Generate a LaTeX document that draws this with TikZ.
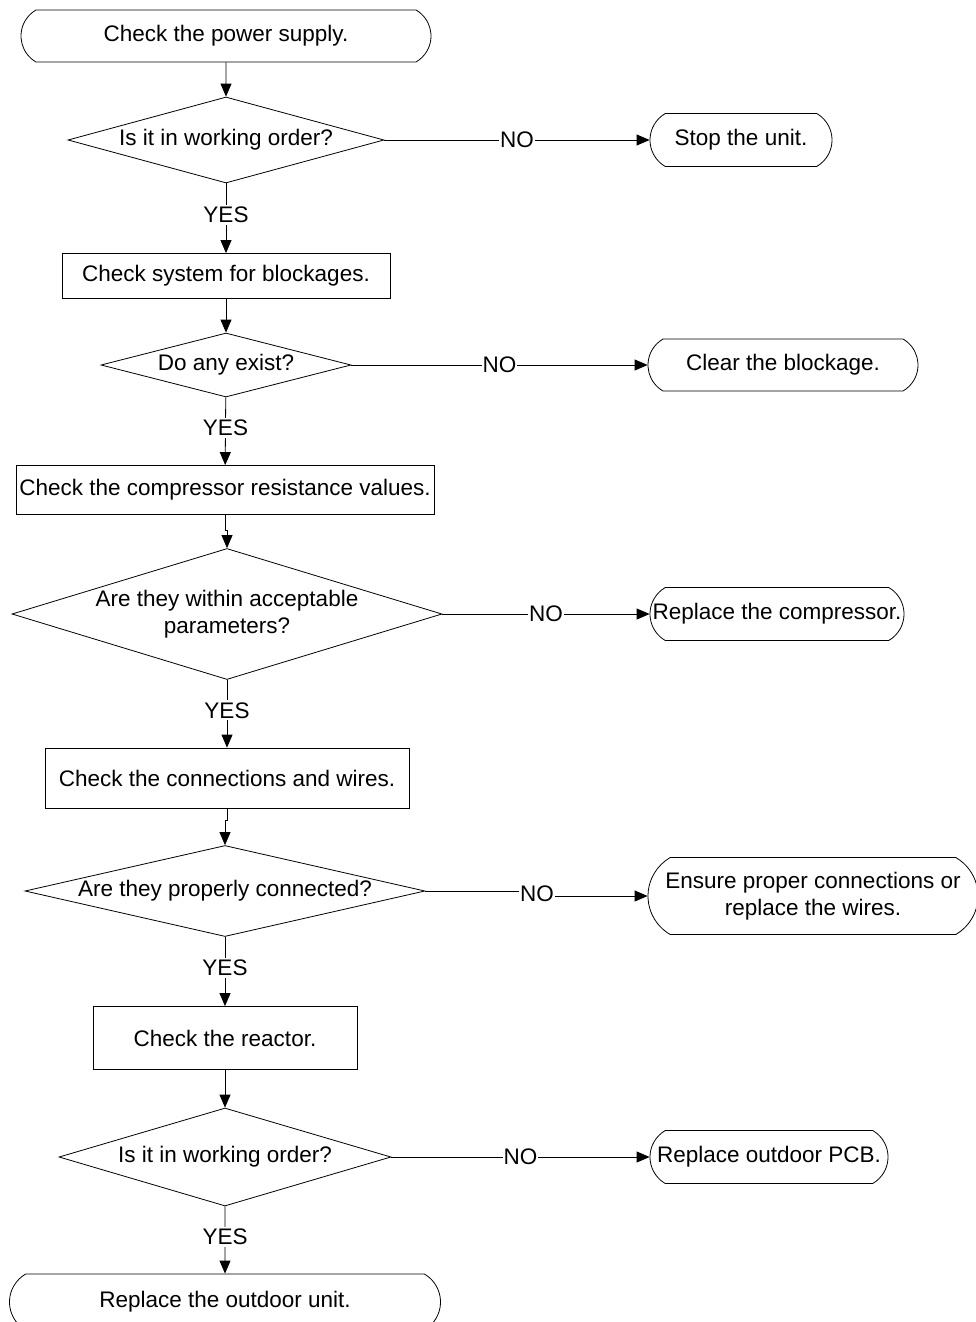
\documentclass[tikz,border=0pt]{standalone}
\usepackage{fontspec}
\setmainfont{Liberation Sans}
\usetikzlibrary{shapes.geometric,shapes.misc,arrows.meta}

\tikzset{
  term/.style={draw, rounded rectangle, rounded rectangle arc length=120,
    inner sep=0pt, align=center},
  procbox/.style={draw, rectangle, inner sep=0pt, align=center},
  decision/.style={draw, diamond, inner sep=0pt, align=center},
  flow/.style={-{Triangle[length=13pt,width=11pt]}},
  nolbl/.style={fill=white, inner sep=1pt},
  yeslbl/.style={fill=white, inner sep=2pt, pos=0.45}
}

\begin{document}
\begin{tikzpicture}[
  x=1pt,
  y=-1pt,
  line width=0.8pt,
  every node/.style={font=\fontsize{22.5}{27}\selectfont}
]
  \useasboundingbox (0,0) rectangle (976,1322);

  % main column
  \node[term, minimum width=410, minimum height=52] (start) at (226,36)
    {Check the power supply.};
  \node[decision, aspect=3.67, minimum width=316, minimum height=86] (d1) at (226,140)
    {Is it in working order?};
  \node[procbox, minimum width=328, minimum height=45] (b2) at (226,276)
    {Check system for blockages.};
  \node[decision, aspect=3.9, minimum width=250, minimum height=64] (d2) at (226,365)
    {Do any exist?};
  \node[procbox, minimum width=418, minimum height=49] (b3) at (225,490)
    {Check the compressor resistance values.};
  \node[decision, aspect=3.28, minimum width=430, minimum height=131] (d3) at (227,614)
    {Are they within acceptable\\parameters?};
  \node[procbox, minimum width=364, minimum height=60] (b4) at (227,778)
    {Check the connections and wires.};
  \node[decision, aspect=4.4, minimum width=400, minimum height=91] (d4) at (225,891)
    {Are they properly connected?};
  \node[procbox, minimum width=264, minimum height=63] (b5) at (225,1038)
    {Check the reactor.};
  \node[decision, aspect=3.39, minimum width=332, minimum height=98] (d5) at (225,1157)
    {Is it in working order?};
  \node[term, minimum width=431, minimum height=56] (final) at (225,1302)
    {Replace the outdoor unit.};

  % right column
  \node[term, minimum width=182, minimum height=53] (stop) at (741,140)
    {Stop the unit.};
  \node[term, minimum width=270, minimum height=52] (clear) at (783,365)
    {Clear the blockage.};
  \node[term, minimum width=254, minimum height=53] (comp) at (777,614)
    {\makebox[210pt]{Replace the compressor.}};
  \node[term, minimum width=330, minimum height=77] (ensure) at (813,896)
    {Ensure proper connections or\\replace the wires.};
  \node[term, minimum width=238, minimum height=53] (pcb) at (769,1157)
    {Replace outdoor PCB.};

  % YES path
  \draw[flow] (start) -- (d1);
  \draw[flow] (d1) -- node[yeslbl] {YES} (b2);
  \draw[flow] (b2) -- (d2);
  \draw[flow] (d2) -- node[yeslbl] {YES} (b3);
  \draw[flow] (b3.south) -- ++(0,15) -| (d3.north);
  \draw[flow] (d3) -- node[yeslbl] {YES} (b4);
  \draw[flow] (b4.south) -- ++(0,12) -| (d4.north);
  \draw[flow] (d4) -- node[yeslbl] {YES} (b5);
  \draw[flow] (b5) -- (d5);
  \draw[flow] (d5) -- node[yeslbl] {YES} (final);

  % NO branches
  \draw[flow] (d1) -- node[nolbl] {NO} (stop);
  \draw[flow] (d2) -- node[nolbl] {NO} (clear);
  \draw[flow] (d3) -- node[nolbl] {NO} (comp);
  \node[nolbl] (no4) at (537,894) {NO};
  \draw (d4.east) -- (d4.east -| no4.west);
  \draw[flow] (no4.east |- ensure.west) -- (ensure.west);
  \draw[flow] (d5) -- node[nolbl] {NO} (pcb);
\end{tikzpicture}
\end{document}
